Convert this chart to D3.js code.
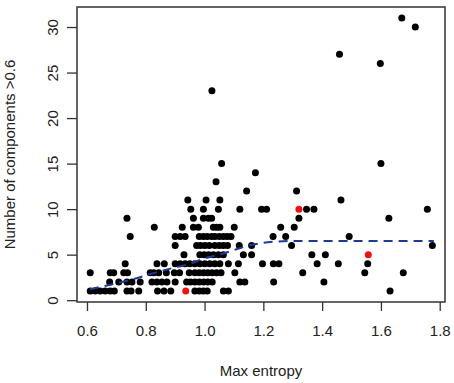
<!DOCTYPE html>
<html>
<head>
<meta charset="utf-8">
<script src="https://cdn.jsdelivr.net/npm/d3@7"></script>
<style>
  body { margin: 0; background: #fff; }
  text { font-family: "Liberation Sans", Arial, sans-serif; fill: #222; }
</style>
</head>
<body>
<div id="chart"></div>
<script>
const width = 454;
const height = 383;
const box = { left: 77, right: 445, top: 7, bottom: 302 };

// number of components (y) and the max entropy of each point at that level
const compLevels = [1, 2, 3, 4, 5, 6, 7, 8, 9, 10, 11, 12, 13, 14, 15, 23, 26, 27, 30, 31];
const entropyByLevel = [
    [0.611, 0.628, 0.645, 0.662, 0.679, 0.693, 0.736, 0.750, 0.776, 0.84, 0.862, 0.885, 0.967, 0.982, 0.996, 1.009, 1.064, 1.081, 1.631],
    [0.677, 0.708, 0.736, 0.753, 0.781, 0.821, 0.838, 0.855, 0.872, 0.9, 0.939, 0.952, 0.967, 0.982, 0.997, 1.011, 1.026, 1.12, 1.137, 1.235, 1.406],
    [0.611, 0.679, 0.691, 0.725, 0.738, 0.815, 0.827, 0.844, 0.870, 0.897, 0.915, 0.948, 0.967, 0.982, 0.997, 1.011, 1.026, 1.041, 1.056, 1.103, 1.334, 1.545, 1.676],
    [0.730, 0.838, 0.863, 0.900, 0.917, 0.934, 0.950, 0.967, 0.984, 1.001, 1.018, 1.035, 1.052, 1.081, 1.115, 1.197, 1.234, 1.253, 1.383, 1.455, 1.555],
    [0.930, 0.984, 0.999, 1.014, 1.030, 1.047, 1.064, 1.132, 1.160, 1.365, 1.411],
    [0.900, 0.973, 0.986, 1.001, 1.016, 1.035, 1.050, 1.064, 1.078, 1.118, 1.160, 1.296, 1.775],
    [0.747, 0.900, 0.917, 0.934, 0.982, 0.996, 1.009, 1.024, 1.035, 1.050, 1.064, 1.077, 1.090, 1.233, 1.276, 1.492],
    [0.829, 0.924, 0.962, 0.979, 1.030, 1.041, 1.052, 1.101, 1.259, 1.305],
    [0.736, 0.962, 0.996, 1.013, 1.024, 1.321, 1.627],
    [0.953, 0.996, 1.047, 1.120, 1.194, 1.211, 1.347, 1.372, 1.758],
    [0.943, 1.005, 1.052, 1.464],
    [1.143, 1.313],
    [1.039],
    [1.173],
    [1.058, 1.600],
    [1.025],
    [1.598],
    [1.459],
    [1.717],
    [1.671]
];

// highlighted (red) points
const redEntropy = [0.936, 1.321, 1.557];
const redComp = [1, 10, 5];

// fitted trend (dashed blue)
const trendX = [0.61, 0.68, 0.75, 0.83, 0.9, 0.95, 1.0, 1.05, 1.1, 1.15, 1.2, 1.25, 1.3, 1.78];
const trendY = [1.2, 1.7, 2.25, 3.0, 3.6, 4.0, 4.6, 5.0, 5.5, 6.0, 6.3, 6.45, 6.5, 6.5];

const xTicks = [0.6, 0.8, 1.0, 1.2, 1.4, 1.6, 1.8];
const yTicks = [0, 5, 10, 15, 20, 25, 30];

const points = [];
compLevels.forEach((c, i) => entropyByLevel[i].forEach(e => points.push({ x: e, y: c })));
const redPoints = redEntropy.map((e, i) => ({ x: e, y: redComp[i] }));

const svg = d3.select("#chart")
    .append("svg")
    .attr("width", width)
    .attr("height", height);

const xScale = d3.scaleLinear().domain([0.566, 1.818]).range([box.left, box.right]);
const yScale = d3.scaleLinear().domain([-0.2, 32.2]).range([box.bottom, box.top]);

// x axis
const xAxis = svg.append("g")
    .attr("transform", `translate(0, ${box.bottom})`)
    .call(d3.axisBottom(xScale).tickValues(xTicks).tickFormat(d3.format(".1f")).tickSize(9).tickPadding(14));
xAxis.select(".domain").remove();
xAxis.selectAll("line").attr("stroke", "#333").attr("stroke-width", 1.3);
xAxis.selectAll("text").style("font-size", "15px").attr("fill", "#222")
    .style("font-family", "'Liberation Sans', Arial, sans-serif");

// y axis, labels parallel to the axis
const yAxis = svg.append("g")
    .attr("transform", `translate(${box.left}, 0)`)
    .call(d3.axisLeft(yScale).tickValues(yTicks).tickSize(10));
yAxis.select(".domain").remove();
yAxis.selectAll("line").attr("stroke", "#333").attr("stroke-width", 1.3);
yAxis.selectAll("text")
    .attr("x", null).attr("dy", null)
    .attr("transform", "translate(-24, 0) rotate(-90)")
    .attr("text-anchor", "middle")
    .attr("dy", "0.35em")
    .style("font-size", "15px").attr("fill", "#222")
    .style("font-family", "'Liberation Sans', Arial, sans-serif");

svg.append("rect")
    .attr("x", box.left)
    .attr("y", box.top)
    .attr("width", box.right - box.left)
    .attr("height", box.bottom - box.top)
    .attr("fill", "none")
    .attr("stroke", "#333")
    .attr("stroke-width", 1.5);

svg.selectAll("circle.pt")
    .data(points)
    .enter()
    .append("circle")
    .attr("class", "pt")
    .attr("cx", d => xScale(d.x))
    .attr("cy", d => yScale(d.y))
    .attr("r", 3.5)
    .attr("fill", "#000");

const line = d3.line()
    .x(d => xScale(d[0]))
    .y(d => yScale(d[1]))
    .curve(d3.curveMonotoneX);

svg.append("path")
    .datum(trendX.map((x, i) => [x, trendY[i]]))
    .attr("d", line)
    .attr("fill", "none")
    .attr("stroke", "#1f3a96")
    .attr("stroke-width", 2)
    .attr("stroke-dasharray", "9,6");

svg.selectAll("circle.red")
    .data(redPoints)
    .enter()
    .append("circle")
    .attr("class", "red")
    .attr("cx", d => xScale(d.x))
    .attr("cy", d => yScale(d.y))
    .attr("r", 3.5)
    .attr("fill", "#f21010");

svg.append("text")
    .attr("x", (box.left + box.right) / 2)
    .attr("y", 376)
    .attr("text-anchor", "middle")
    .style("font-size", "15px")
    .text("Max entropy");

svg.append("text")
    .attr("transform", `translate(15, ${(box.top + box.bottom) / 2}) rotate(-90)`)
    .attr("text-anchor", "middle")
    .style("font-size", "15px")
    .text("Number of components >0.6");
</script>
</body>
</html>
